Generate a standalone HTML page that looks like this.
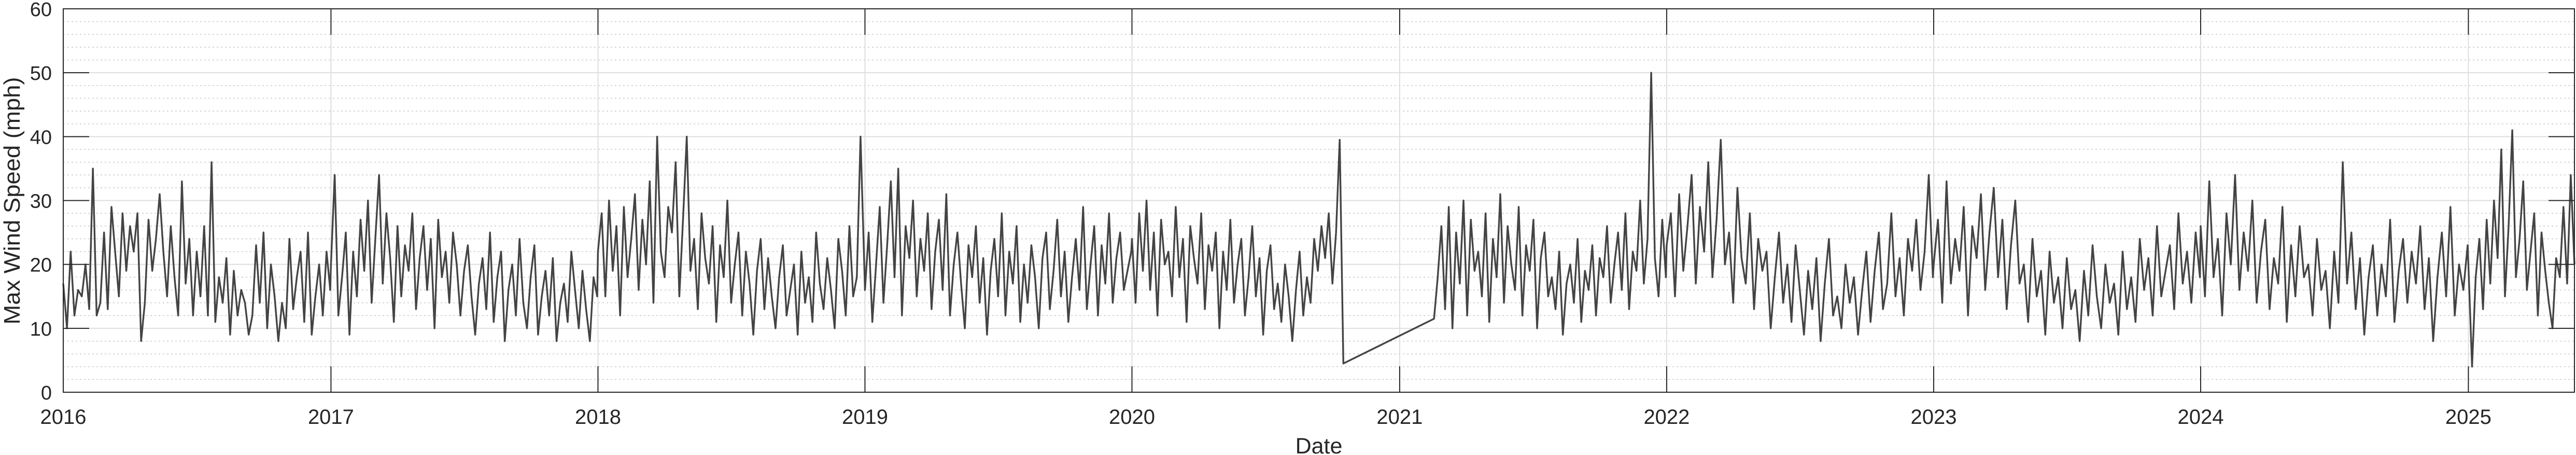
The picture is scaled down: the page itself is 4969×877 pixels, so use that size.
<!DOCTYPE html>
<html><head><meta charset="utf-8"><style>
html,body{margin:0;padding:0;background:#fff;}
svg{display:block;font-family:"Liberation Sans",Arial,sans-serif;}
</style></head><body>
<svg id="chart" width="4969" height="877" viewBox="0 0 4969 877" xmlns="http://www.w3.org/2000/svg">
<rect width="4969" height="877" fill="#fff"/>
<g id="grid"></g>
<g id="series"></g>
<g id="axes"></g>
<text transform="translate(38,387) rotate(-90)" text-anchor="middle" font-size="44" fill="#262626" textLength="477" lengthAdjust="spacingAndGlyphs">Max Wind Speed (mph)</text>
<text x="2544" y="874" text-anchor="middle" font-size="43" fill="#262626">Date</text>
</svg>
<script>
const yTicks = [0,10,20,30,40,50,60];
const yearTicks = [2016,2017,2018,2019,2020,2021,2022,2023,2024,2025];
const segStarts = ["2016-01-01","2017-01-01","2018-01-01","2019-01-01","2020-01-01","2021-02-17","2022-01-01","2023-01-01","2024-01-01","2025-01-01"];
const segEnds   = ["2016-12-31","2017-12-31","2018-12-31","2019-12-31","2020-10-16","2021-12-31","2022-12-31","2023-12-31","2024-12-31","2025-05-26"];
const y2016 = [17,10,22,12,16,15,20,13,35,12,14,25,13,29,22,15,28,19,26,22,28,8,14,27,19,24,31,22,15,26,18,12,33,17,24,12,22,15,26,12,36,11,18,14,21,9,19,12,16,14,9,12,23,14,25,10,20,15,8,14,10,24,13,18,22,11,25,9,15,20,12,22,16];
const y2017 = [20,34,12,18,25,9,22,15,27,19,30,14,24,34,17,28,21,11,26,15,23,19,28,13,21,26,16,24,10,27,18,22,14,25,20,12,19,23,15,9,17,21,13,25,11,18,22,8,16,20,12,24,14,10,18,23,9,15,19,12,21,8,14,17,11,22,16,10,19,13,8,18,15];
const y2018 = [22,28,15,30,19,26,12,29,18,24,31,16,27,20,33,14,40,22,18,29,25,36,15,27,40,19,24,13,28,21,17,26,11,23,18,30,14,20,25,12,22,17,9,19,24,13,21,15,10,18,23,12,16,20,9,22,14,18,11,25,17,13,21,16,10,24,19,12,26,15,18,40,20];
const y2019 = [16,25,11,20,29,14,23,33,18,35,12,26,21,30,15,24,19,28,13,22,27,16,31,12,20,25,17,10,23,18,26,14,21,9,19,24,15,28,12,22,17,26,11,20,14,23,18,10,21,25,13,19,27,15,22,11,18,24,16,29,13,20,26,12,23,17,28,14,21,25,16,19,22];
const y2020 = [24,14,28,19,30,16,25,12,27,20,22,15,29,18,24,11,26,21,17,28,13,23,19,25,10,22,16,27,14,20,24,12,18,26,15,21,9,19,23,13,17,11,20,15,8,16,22,12,18,14,24,19,26,21,28,17,25,39.5,4.5];
const y2021 = [11.5,18,26,13,29,10,25,17,30,12,27,19,22,15,28,11,24,18,31,14,26,20,16,29,12,23,19,27,10,21,25,15,18,13,22,9,17,20,14,24,11,19,16,23,12,21,18,26,14,20,25,16,28,13,22,19,30,17,24,50,21,15,27,18];
const y2022 = [23,28,15,31,19,26,34,17,29,22,36,18,27,39.5,20,25,14,32,21,17,28,13,24,19,22,10,18,25,14,20,11,23,16,9,19,13,21,8,17,24,12,15,10,20,14,18,9,16,22,11,19,25,13,17,28,15,21,12,24,19,27,16,22,34,18];
const y2023 = [20,27,14,33,17,24,19,29,12,26,21,31,16,25,32,18,27,13,23,30,17,20,11,24,15,19,9,22,14,18,10,21,13,16,8,19,12,23,15,10,20,14,17,9,22,13,18,11,24,16,21,12,26,15,19,23,13,28,17,22,14,25,18];
const y2024 = [26,15,33,18,24,12,28,20,34,16,25,19,30,14,22,27,13,21,17,29,11,23,15,26,18,20,12,24,16,19,10,22,14,36,17,25,13,21,9,18,23,12,20,15,27,11,19,24,14,22,17,26,13,21,8,18,25,15,29,12,20,16,23];
const y2025 = [20,4,18,24,13,27,17,30,21,38,15,26,41,18,24,33,16,22,28,12,25,19,14,10,21,18,29,17,34,20];
const segValues = [y2016,y2017,y2018,y2019,y2020,y2021,y2022,y2023,y2024,y2025];

const NS = "http://www.w3.org/2000/svg";
const X0 = 122, X1 = 4966, Y0 = 756, Y1 = 17;
const tMin = Date.parse("2016-01-01"), tMax = Date.parse("2025-05-26");
const yMax = 60;
function xs(t){ return X0 + (t - tMin) / (tMax - tMin) * (X1 - X0); }
function ys(v){ return Y0 - v / yMax * (Y0 - Y1); }
function mk(tag, attrs, parent){
  const e = document.createElementNS(NS, tag);
  for (const k in attrs) e.setAttribute(k, attrs[k]);
  parent.appendChild(e); return e;
}
const grid = document.getElementById('grid');
const axes = document.getElementById('axes');
const series = document.getElementById('series');

for (let v = 0; v <= yMax; v += 2) {
  if (v % 10 === 0) continue;
  const l = mk('line', {x1:X0, x2:X1, y1:ys(v), y2:ys(v), stroke:'#c8c8c8', 'stroke-width':1.5, 'stroke-dasharray':'3,5'}, grid);
  
  
}
yTicks.forEach(v => {
  const l = mk('line', {x1:X0, x2:X1, y1:ys(v), y2:ys(v), stroke:'#dedede', 'stroke-width':2}, grid);
  
  
  const t1 = mk('line', {x1:X0, x2:X0+50, y1:ys(v), y2:ys(v), stroke:'#262626', 'stroke-width':2}, axes);
  
  
  const t2 = mk('line', {x1:X1-50, x2:X1, y1:ys(v), y2:ys(v), stroke:'#262626', 'stroke-width':2}, axes);
  
  
  const tx = mk('text', {x:100, y:ys(v)+14, 'text-anchor':'end', 'font-size':38, fill:'#262626'}, axes);
  tx.textContent = v;
  
  
});
yearTicks.forEach(yr => {
  const x = xs(Date.parse(yr + "-01-01"));
  const g = mk('line', {x1:x, x2:x, y1:Y1, y2:Y0, stroke:'#dedede', 'stroke-width':2}, grid);
  
  
  const t1 = mk('line', {x1:x, x2:x, y1:Y0-50, y2:Y0, stroke:'#262626', 'stroke-width':2}, axes);
  
  
  const t2 = mk('line', {x1:x, x2:x, y1:Y1, y2:Y1+50, stroke:'#262626', 'stroke-width':2}, axes);
  
  
  const tx = mk('text', {x:x, y:817, 'text-anchor':'middle', 'font-size':40, fill:'#262626'}, axes);
  tx.textContent = yr;
  
  
});
const box = mk('rect', {x:X0, y:Y1, width:X1-X0, height:Y0-Y1, fill:'none', stroke:'#262626', 'stroke-width':2}, axes);



let pts = [];
segValues.forEach((vals, i) => {
  const a = Date.parse(segStarts[i]), b = Date.parse(segEnds[i]);
  const n = vals.length;
  vals.forEach((v, j) => {
    const t = a + (n > 1 ? (b - a) * j / (n - 1) : 0);
    pts.push(xs(t).toFixed(1) + ',' + ys(v).toFixed(1));
  });
});
const line = mk('polyline', {points: pts.join(' '), fill:'none', stroke:'#444444', 'stroke-width':3.4, 'stroke-linejoin':'round'}, series);


</script>
</body></html>
